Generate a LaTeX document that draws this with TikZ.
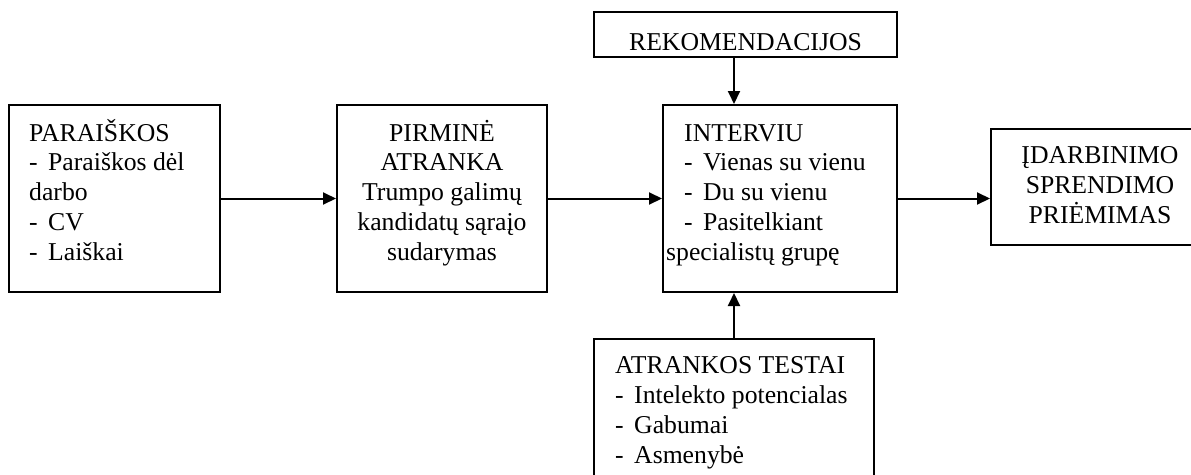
\documentclass[tikz,border=0pt]{standalone}
\usepackage{fontspec}
\setmainfont{Liberation Serif}
\usetikzlibrary{arrows.meta}
\newcommand\lidash{\hbox to 19pt{-\hfil}}
\begin{document}
\begin{tikzpicture}[x=1pt,y=-1pt,
  box/.style={draw, line width=2pt, inner sep=0pt},
  txt/.style={inner sep=0pt, font=\fontsize{25.7}{29.7}\selectfont},
  flow/.style={line width=2pt, -{Triangle[length=13pt,width=12pt]}}]
\useasboundingbox (0,0) rectangle (1191,474);
\clip (0,0) rectangle (1191,474);

% boxes
\node[box, minimum width=211pt, minimum height=187pt] (par)  at (114.5,198.5) {};
\node[box, minimum width=210pt, minimum height=187pt] (pirm) at (442,198.5) {};
\node[box, minimum width=234pt, minimum height=187pt] (intv) at (780,198.5) {};
\node[box, minimum width=303pt, minimum height=45pt]  (reko) at (745.5,34.5) {};
\node[box, minimum width=280pt, minimum height=151pt] (atr)  at (734,414.5) {};
\node[box, minimum width=219pt, minimum height=116pt] (idar) at (1100.5,187) {};

% box texts (anchored on the baseline of their last line)
\node[txt, anchor=base west, align=left] (par-t) at (29,260)
  {PARAIŠKOS\\\lidash Paraiškos dėl\\darbo\\\lidash CV\\\lidash Laiškai};
\node[txt, anchor=base, align=center] (pirm-t) at (442,260)
  {PIRMINĖ\\ATRANKA\\Trumpo galimų\\kandidatų sąraįo\\sudarymas};
\node[txt, anchor=base west, align=left] (intv-t) at (684,260)
  {INTERVIU\\\lidash Vienas su vienu\\\lidash Du su vienu\\\lidash Pasitelkiant\\\hspace*{-18pt}specialistų grupę};
\node[txt, anchor=base] (reko-t) at (745.5,50) {REKOMENDACIJOS};
\node[txt, anchor=base west, align=left] (atr-t) at (615,463)
  {ATRANKOS TESTAI\\\lidash Intelekto potencialas\\\lidash Gabumai\\\lidash Asmenybė};
\node[txt, anchor=base, align=center] (idar-t) at (1100,223)
  {ĮDARBINIMO\\SPRENDIMO\\PRIĖMIMAS};

% connectors
\draw[flow] (par.east) -- (pirm.west);
\draw[flow] (pirm.east) -- (intv.west);
\draw[flow] (intv.east) -- (idar.west |- intv.east);
\draw[flow] (reko.south -| atr.north) -- (intv.north -| atr.north);
\draw[flow] (atr.north) -- (intv.south -| atr.north);
\end{tikzpicture}
\end{document}
